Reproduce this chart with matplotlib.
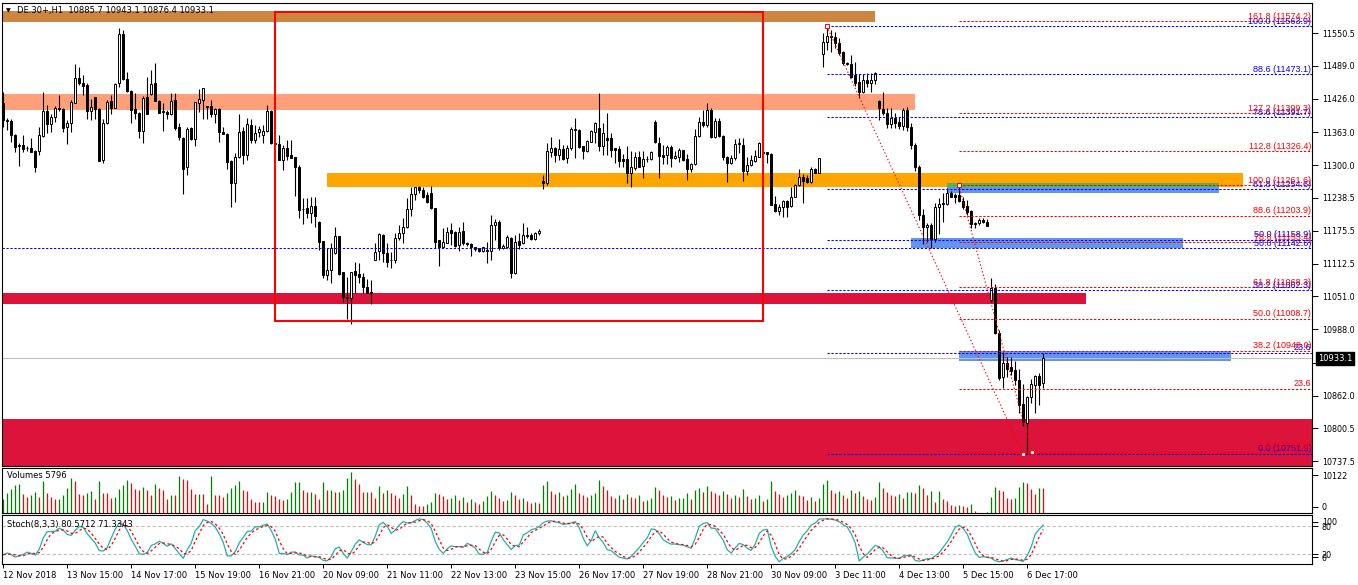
import matplotlib.pyplot as plt
import numpy as np
import pandas as pd
from matplotlib.patches import Rectangle

# DE.30+ H1 candles (bar 0 = 12 Nov 2018)
opens = [
    11417.7, 11384.0, 11384.0, 11357.5, 11336.6, 11337.9, 11332.2, 11332.8, 11327.1, 11327.7,
    11355.6, 11403.1, 11377.8, 11391.0, 11408.2, 11406.3, 11372.1, 11379.7, 11418.9, 11465.2,
    11455.7, 11452.5, 11403.7, 11429.0, 11406.3, 11310.0, 11379.7, 11422.1, 11409.4, 11455.7,
    11549.4, 11463.9, 11441.1, 11406.3, 11398.7, 11365.7, 11429.0, 11435.4, 11455.7, 11422.7,
    11403.7, 11401.2, 11396.8, 11424.0, 11373.3, 11351.8, 11296.1, 11370.2, 11350.5, 11419.0,
    11424.0, 11412.6, 11412.6, 11397.4, 11406.3, 11363.2, 11359.4, 11308.1, 11265.7, 11315.1,
    11365.1, 11318.9, 11376.5, 11348.0, 11362.6, 11356.9, 11365.7, 11403.7, 11341.7, 11340.4,
    11310.0, 11332.2, 11319.5, 11315.1, 11296.1, 11216.3, 11219.4, 11208.7, 11222.6, 11192.8,
    11156.1, 11091.5, 11101.0, 11132.7, 11165.6, 11096.6, 11049.1, 11047.2, 11099.1, 11093.4,
    11087.1, 11068.1, 11058.0, 11120.0, 11137.7, 11167.5, 11132.7, 11120.0, 11120.0, 11161.2,
    11171.9, 11182.1, 11216.3, 11245.4, 11259.3, 11253.0, 11243.5, 11246.7, 11218.2, 11158.0,
    11145.3, 11152.9, 11177.0, 11173.8, 11148.5, 11175.7, 11151.7, 11150.4, 11144.1, 11142.2,
    11137.7, 11139.0, 11137.7, 11186.5, 11192.8, 11142.2, 11145.3, 11161.2, 11094.7, 11156.7,
    11151.7, 11167.5, 11167.5, 11159.3, 11170.7, 11270.1, 11266.9, 11325.8, 11332.2, 11319.5,
    11330.3, 11313.2, 11332.2, 11367.0, 11367.0, 11336.6, 11327.1, 11344.8, 11363.8, 11370.0,
    11336.6, 11351.2, 11351.2, 11332.2, 11330.3, 11311.3, 11311.3, 11284.7, 11294.2, 11315.1,
    11298.6, 11311.3, 11311.3, 11382.8, 11342.9, 11319.5, 11319.5, 11334.1, 11313.2, 11316.3,
    11329.0, 11311.3, 11292.3, 11302.4, 11355.6, 11382.8, 11376.5, 11405.0, 11354.3, 11384.7,
    11355.6, 11316.3, 11303.7, 11313.2, 11340.4, 11338.5, 11289.7, 11300.5, 11308.7, 11316.3,
    11325.8, 11325.8, 11321.4, 11226.4, 11213.7, 11220.1, 11232.7, 11222.6, 11240.3, 11262.5,
    11278.3, 11275.2, 11268.8, 11292.3, 11285.9, 11510.8, 11534.8, 11545.6, 11543.1, 11532.9,
    11515.8, 11494.9, 11492.4, 11471.5, 11458.8, 11439.8, 11462.0, 11455.7, 11462.0, 11422.7,
    11406.3, 11399.9, 11378.4, 11389.2, 11382.8, 11374.6, 11405.0, 11372.0, 11338.0, 11296.0,
    11205.5, 11182.1, 11186.5, 11159.3, 11220.1, 11226.4, 11226.4, 11246.7, 11243.5, 11243.5,
    11232.7, 11222.6, 11213.7, 11190.9, 11189.7, 11196.0, 11192.8, 11044.0, 11066.8, 10981.0,
    10898.3, 10923.7, 10917.3, 10911.0, 10892.0, 10846.4, 10810.9, 10859.0, 10882.5, 10899.5,
    10885.7]
highs = [
    11439.8, 11389.0, 11388.0, 11358.8, 11341.7, 11357.5, 11336.6, 11352.4, 11329.0, 11372.0,
    11439.8, 11414.5, 11397.4, 11412.6, 11433.5, 11408.2, 11386.0, 11424.0, 11492.4, 11487.3,
    11471.5, 11456.9, 11425.9, 11429.0, 11408.2, 11387.3, 11424.0, 11433.5, 11456.9, 11560.2,
    11557.0, 11477.8, 11443.0, 11436.7, 11401.8, 11431.6, 11467.0, 11481.0, 11494.9, 11424.0,
    11417.7, 11405.0, 11436.7, 11436.7, 11379.7, 11354.3, 11372.0, 11372.0, 11420.8, 11444.9,
    11447.4, 11412.6, 11424.0, 11408.2, 11408.2, 11373.3, 11360.7, 11310.0, 11322.7, 11397.4,
    11373.3, 11389.2, 11387.3, 11376.5, 11374.6, 11376.5, 11414.5, 11405.0, 11343.0, 11357.5,
    11338.5, 11348.0, 11348.0, 11316.3, 11300.5, 11237.2, 11237.2, 11239.1, 11240.3, 11194.1,
    11156.1, 11142.2, 11151.7, 11183.4, 11165.6, 11097.9, 11088.4, 11097.9, 11116.9, 11113.7,
    11096.0, 11083.3, 11082.0, 11151.7, 11170.7, 11169.4, 11151.7, 11135.8, 11170.7, 11186.5,
    11199.2, 11237.2, 11259.3, 11259.3, 11260.6, 11258.1, 11249.8, 11260.6, 11218.2, 11158.0,
    11180.2, 11183.4, 11190.9, 11175.7, 11183.4, 11192.8, 11154.8, 11151.7, 11145.3, 11142.2,
    11145.3, 11154.8, 11205.5, 11197.3, 11196.0, 11150.4, 11167.5, 11164.4, 11167.5, 11170.7,
    11190.9, 11183.4, 11170.7, 11173.8, 11178.3, 11281.5, 11342.9, 11353.1, 11335.3, 11349.3,
    11338.5, 11338.5, 11372.1, 11389.2, 11368.3, 11336.6, 11348.0, 11367.0, 11382.8, 11437.9,
    11379.7, 11398.7, 11361.9, 11332.2, 11336.6, 11321.4, 11336.6, 11327.7, 11325.8, 11327.7,
    11327.7, 11317.6, 11327.7, 11386.0, 11354.3, 11338.5, 11338.5, 11338.5, 11327.7, 11332.2,
    11329.0, 11321.4, 11304.9, 11368.3, 11392.3, 11405.0, 11417.7, 11408.2, 11389.2, 11389.2,
    11357.5, 11317.6, 11319.5, 11349.3, 11351.2, 11351.2, 11315.1, 11319.5, 11329.0, 11344.8,
    11327.7, 11325.8, 11322.7, 11241.6, 11226.4, 11234.0, 11234.0, 11259.3, 11264.4, 11292.3,
    11283.4, 11281.5, 11296.1, 11294.2, 11313.2, 11550.7, 11563.9, 11557.0, 11553.8, 11541.2,
    11517.7, 11496.8, 11509.5, 11496.8, 11473.4, 11473.4, 11475.9, 11475.9, 11477.8, 11424.0,
    11439.8, 11408.2, 11408.2, 11398.7, 11391.0, 11408.2, 11410.0, 11380.0, 11342.0, 11300.0,
    11216.3, 11189.7, 11190.9, 11227.7, 11237.2, 11246.7, 11256.2, 11251.7, 11247.9, 11261.6,
    11240.3, 11234.0, 11215.0, 11192.8, 11200.4, 11199.2, 11197.3, 11085.8, 11074.4, 10987.0,
    10945.8, 10936.0, 10936.0, 10928.7, 10912.3, 10884.4, 10862.0, 10893.3, 10901.5, 10905.8,
    10943.1]
lows = [
    11373.3, 11367.0, 11345.0, 11325.8, 11299.3, 11325.8, 11327.7, 11324.6, 11286.6, 11318.9,
    11354.3, 11360.7, 11363.8, 11382.8, 11403.7, 11363.8, 11340.4, 11363.2, 11417.7, 11452.5,
    11433.5, 11387.9, 11386.0, 11387.3, 11308.7, 11305.0, 11378.4, 11396.8, 11408.2, 11449.3,
    11462.0, 11439.8, 11381.0, 11387.9, 11351.2, 11342.9, 11397.4, 11433.5, 11422.7, 11398.7,
    11365.1, 11387.3, 11395.5, 11367.0, 11348.0, 11244.8, 11281.5, 11348.0, 11336.6, 11401.8,
    11387.3, 11387.3, 11392.3, 11379.7, 11344.8, 11359.4, 11292.9, 11221.4, 11230.8, 11313.2,
    11302.4, 11310.0, 11341.7, 11341.7, 11354.3, 11341.7, 11363.8, 11340.4, 11340.0, 11310.0,
    11291.0, 11310.0, 11313.2, 11241.6, 11199.2, 11188.4, 11199.2, 11189.7, 11183.4, 11139.0,
    11085.2, 11082.0, 11075.7, 11131.4, 11091.5, 11040.9, 11007.3, 10998.4, 11056.7, 11076.9,
    11056.7, 11056.7, 11036.4, 11120.0, 11120.0, 11116.8, 11106.1, 11104.2, 11113.7, 11158.0,
    11151.7, 11180.2, 11203.6, 11234.0, 11246.7, 11237.2, 11228.9, 11216.3, 11142.2, 11109.3,
    11142.2, 11151.7, 11148.5, 11145.3, 11137.7, 11148.5, 11147.2, 11127.6, 11137.7, 11135.8,
    11135.8, 11113.7, 11120.0, 11158.0, 11139.0, 11140.9, 11142.2, 11085.2, 11093.4, 11140.3,
    11150.4, 11161.2, 11158.0, 11158.0, 11167.5, 11254.3, 11262.5, 11316.3, 11306.8, 11310.0,
    11310.0, 11303.7, 11329.0, 11313.2, 11332.2, 11311.3, 11325.8, 11343.6, 11342.9, 11327.7,
    11319.5, 11319.5, 11316.3, 11303.7, 11296.1, 11296.1, 11265.7, 11259.3, 11291.0, 11296.1,
    11275.2, 11306.8, 11310.0, 11341.7, 11275.2, 11302.4, 11302.4, 11296.1, 11311.3, 11306.8,
    11308.7, 11272.0, 11287.8, 11300.5, 11354.3, 11373.3, 11373.3, 11351.2, 11351.2, 11353.1,
    11310.0, 11268.8, 11302.4, 11310.0, 11322.7, 11270.7, 11281.5, 11298.6, 11306.8, 11315.1,
    11322.7, 11303.7, 11224.5, 11211.8, 11205.5, 11202.3, 11202.3, 11221.4, 11239.1, 11260.6,
    11228.9, 11265.7, 11265.7, 11285.9, 11284.7, 11487.3, 11519.0, 11515.8, 11522.2, 11509.5,
    11490.5, 11490.5, 11465.2, 11450.6, 11427.2, 11437.9, 11448.0, 11439.8, 11454.4, 11386.0,
    11395.5, 11370.2, 11370.2, 11370.2, 11368.3, 11367.0, 11365.0, 11330.0, 11290.0, 11196.0,
    11150.0, 11154.8, 11142.2, 11155.0, 11169.4, 11192.8, 11224.5, 11239.1, 11227.7, 11230.8,
    11216.3, 11205.5, 11180.2, 11180.2, 11186.5, 11189.7, 11184.6, 11040.2, 10979.0, 10892.0,
    10876.2, 10898.3, 10901.5, 10882.5, 10828.7, 10804.6, 10751.9, 10847.7, 10829.9, 10844.5,
    10876.4]
closes = [
    11386.0, 11386.0, 11357.5, 11334.1, 11337.9, 11330.3, 11333.5, 11325.8, 11296.1, 11356.9,
    11403.1, 11377.8, 11392.3, 11408.2, 11406.3, 11371.4, 11379.7, 11419.6, 11465.2, 11455.7,
    11451.2, 11403.7, 11410.1, 11406.3, 11308.7, 11379.7, 11420.8, 11409.4, 11454.4, 11549.4,
    11463.9, 11441.1, 11405.0, 11398.7, 11365.7, 11428.4, 11397.4, 11453.8, 11422.7, 11399.9,
    11401.2, 11396.8, 11422.7, 11371.4, 11353.1, 11293.6, 11368.3, 11350.5, 11419.6, 11425.3,
    11446.2, 11410.1, 11397.4, 11406.3, 11362.6, 11359.4, 11306.8, 11265.7, 11315.1, 11362.6,
    11318.9, 11377.8, 11348.0, 11360.7, 11368.9, 11365.1, 11403.7, 11341.7, 11341.0, 11310.0,
    11332.2, 11317.6, 11314.4, 11296.1, 11215.0, 11217.5, 11208.7, 11222.6, 11203.6, 11154.8,
    11091.5, 11101.0, 11142.2, 11165.6, 11093.4, 11049.1, 11047.2, 11097.9, 11091.5, 11087.1,
    11068.1, 11058.0, 11058.6, 11135.8, 11168.8, 11132.7, 11116.8, 11119.4, 11161.2, 11171.9,
    11183.4, 11216.3, 11245.4, 11258.1, 11253.0, 11240.3, 11230.8, 11218.2, 11154.8, 11145.3,
    11153.6, 11173.8, 11171.9, 11146.6, 11173.8, 11151.7, 11151.0, 11144.1, 11140.3, 11137.7,
    11144.1, 11137.7, 11186.5, 11192.8, 11142.2, 11146.6, 11163.1, 11094.7, 11154.8, 11148.5,
    11167.5, 11165.6, 11159.3, 11170.7, 11175.7, 11265.7, 11327.1, 11332.2, 11319.5, 11330.3,
    11311.3, 11332.2, 11368.3, 11368.3, 11335.3, 11327.1, 11346.1, 11365.1, 11379.7, 11336.6,
    11362.0, 11348.0, 11329.0, 11329.0, 11308.7, 11308.7, 11286.0, 11296.1, 11315.1, 11296.1,
    11311.3, 11311.9, 11325.8, 11344.8, 11317.6, 11316.3, 11334.1, 11313.2, 11317.6, 11329.0,
    11310.0, 11292.3, 11302.4, 11355.6, 11382.8, 11376.5, 11405.0, 11354.3, 11384.7, 11355.6,
    11315.1, 11303.7, 11313.2, 11340.4, 11341.7, 11289.7, 11300.5, 11310.0, 11317.6, 11342.9,
    11324.0, 11321.4, 11224.5, 11213.7, 11220.1, 11232.7, 11221.4, 11240.3, 11262.5, 11278.3,
    11270.1, 11268.8, 11292.3, 11285.9, 11313.2, 11534.8, 11545.6, 11543.1, 11531.7, 11513.9,
    11494.9, 11492.4, 11467.1, 11455.7, 11439.8, 11462.0, 11455.7, 11462.0, 11475.9, 11408.2,
    11398.7, 11378.4, 11389.2, 11380.9, 11374.6, 11405.0, 11372.0, 11338.0, 11296.0, 11205.5,
    11182.1, 11186.5, 11159.3, 11221.3, 11226.4, 11227.7, 11246.7, 11239.1, 11239.1, 11232.7,
    11221.3, 11211.8, 11188.4, 11188.4, 11196.0, 11192.8, 11184.6, 11066.8, 10981.0, 10895.8,
    10923.7, 10912.3, 10909.7, 10892.0, 10844.5, 10812.8, 10860.2, 10884.4, 10899.5, 10882.5,
    10933.1]
volumes = [
    3370, 4700, 5640, 6500, 6730, 4460, 3760, 4150, 5010, 3680,
    7520, 4620, 3760, 3210, 3370, 4230, 5870, 8140, 7440, 4540,
    4230, 4780, 5090, 3210, 7440, 4620, 4580, 3600, 3680, 5640,
    6580, 7670, 6970, 5560, 5320, 6110, 5480, 4310, 6730, 5720,
    5320, 3210, 4230, 4150, 8610, 7990, 7600, 5640, 4390, 4540,
    4460, 2040, 8540, 4310, 4230, 3680, 4620, 5870, 6420, 7440,
    5400, 5090, 3290, 2660, 2510, 2660, 4860, 4230, 3990, 3210,
    3130, 3170, 5010, 7130, 7280, 5480, 4930, 5010, 4540, 3290,
    7130, 5320, 5400, 4860, 4950, 5400, 8140, 9470, 7910, 6660,
    4860, 4900, 4860, 3520, 6260, 4620, 5320, 4620, 4150, 3520,
    4390, 6260, 4310, 2190, 1640, 1600, 2190, 2660, 4780, 4390,
    4070, 3210, 3500, 4200, 3000, 3800, 2600, 3300, 2500, 2200,
    2700, 3900, 5200, 4300, 3500, 2800, 3000, 4800, 4100, 3300,
    3600, 2900, 2400, 2600, 2300, 6500, 7500, 5200, 4400, 4800,
    3900, 4300, 5600, 6800, 4700, 4100, 3800, 4200, 4600, 7800,
    6200, 5300, 4000, 3600, 4200, 3300, 4500, 3800, 3400, 4100,
    2800, 3000, 3500, 6000, 5400, 4200, 3700, 3900, 3100, 3400,
    3600, 4700, 3300, 5300, 5900, 4800, 6300, 5100, 4600, 4300,
    5200, 4400, 3500, 4200, 3800, 5600, 3900, 3200, 3600, 4100,
    2900, 3300, 7400, 5200, 4400, 3800, 4100, 4700, 5300, 4200,
    3900, 3100, 3700, 2800, 3400, 6800, 7600, 5400, 4700, 5100,
    4300, 3600, 5400, 4600, 5200, 3900, 3300, 3100, 3700, 7200,
    5900, 4800, 4200, 3900, 4400, 3520, 4860, 4900, 4700, 6500,
    5720, 4310, 5090, 2510, 5090, 3290, 2740, 1880, 1640, 1880,
    1640, 1330, 2110, 390, 80, 30, 160, 3680, 6110, 5480,
    5170, 3450, 3290, 3450, 6110, 7200, 7050, 5560, 4540, 5900,
    5796]

tick_bars = list(range(0, 257, 16))
tick_labels = ['12 Nov 2018', '13 Nov 15:00', '14 Nov 17:00', '15 Nov 19:00', '16 Nov 21:00',
               '20 Nov 09:00', '21 Nov 11:00', '22 Nov 13:00', '23 Nov 15:00', '26 Nov 17:00',
               '27 Nov 19:00', '28 Nov 21:00', '30 Nov 09:00', '3 Dec 11:00', '4 Dec 13:00',
               '5 Dec 15:00', '6 Dec 17:00']
price_ticks = [11550.5, 11489.0, 11426.0, 11363.0, 11300.0, 11238.5, 11175.5, 11112.5,
               11051.0, 10988.0, 10925.0, 10862.0, 10800.5, 10737.5]

# supply / demand zones: first bar, last bar, bottom, top
zone_x0 = [-0.3, -0.3, 80.9, 235.9, 235.9, 226.9, -0.3, 238.9, -0.3]
zone_x1 = [217.9, 227.9, 309.9, 303.9, 303.9, 294.9, 270.7, 306.9, 330]
zone_lo = [11572.2, 11405.0, 11259.3, 11259.3, 11247.9, 11143.4, 11036.0, 10928.7, 10700]
zone_hi = [11593.1, 11435.4, 11285.9, 11266.9, 11259.3, 11161.8, 11057.9, 10947.1, 10817.9]
zone_col = ['#CD853F', '#FFA07A', '#FFA500', '#55B548', '#6495ED', '#6495ED', '#DC143C',
            '#6495ED', '#DC143C']

# fibonacci retracements
blue_lv = [11563.9, 11473.1, 11391.7, 11254.6, 11158.9, 11062.3, 10943.5, 10751.9]
blue_tx = ['100.0 (11563.9)', '88.6 (11473.1)', '78.6 (11391.7)', '61.8 (11254.6)',
           '50.0 (11158.9)', '38.2 (11062.3)', '23.6', '0.0 (10751.9)']
red_lv = [11574.2, 11399.3, 11326.4, 11261.6, 11203.9, 11153.4, 11068.3, 11008.7, 10948.0,
          10875.2, 10755.8]
red_tx = ['161.8 (11574.2)', '127.2 (11399.3)', '112.8 (11326.4)', '100.0 (11261.6)',
          '88.6 (11203.9)', '78.6 (11153.4)', '61.8 (11068.3)', '50.0 (11008.7)',
          '38.2 (10948.0)', '23.6', '0.0 (10755.8)']
blue_anchor = ([205.9, 254.9], [11563.9, 10751.9])
red_anchor = ([238.9, 257.1], [11261.6, 10755.8])

O = np.array(opens); H = np.array(highs); L = np.array(lows); C = np.array(closes)
V = np.array(volumes)
x = np.arange(len(C))

W, HT = 1358, 585
fig = plt.figure(figsize=(W / 100, HT / 100), dpi=100)
left, width = 2.3 / W, 1309.7 / W
ax = fig.add_axes([left, (HT - 465.5) / HT, width, 463 / HT])
axv = fig.add_axes([left, (HT - 513) / HT, width, 45.5 / HT])
axs = fig.add_axes([left, (HT - 564) / HT, width, 49 / HT])

for a in (ax, axv, axs):
    a.set_xlim(-0.25, 327.2)
    for s in a.spines.values():
        s.set_linewidth(0.8)
        s.set_color('black')
    a.yaxis.tick_right()
    a.tick_params(axis='y', direction='out', length=4, width=0.7, labelsize=5.8, pad=3)

ax.set_ylim(10729.5, 11609.2)
xmax = 327.2

# zones
for x0, x1, lo, hi, c in zip(zone_x0, zone_x1, zone_lo, zone_hi, zone_col):
    ax.add_patch(Rectangle((x0, lo), x1 - x0, hi - lo, facecolor=c, edgecolor='none', zorder=1))
ax.add_patch(Rectangle((67.9, 11003.5), 122, 11591.2 - 11003.5, facecolor='none',
                       edgecolor='red', linewidth=1.5, zorder=6))

ax.axhline(10933.1, color='#C0C0C0', lw=0.8, zorder=2)

# candles
ax.vlines(x, np.minimum(L, np.minimum(O, C)), np.maximum(H, np.maximum(O, C)),
          color='black', lw=0.8, zorder=3)
bull = C >= O
ax.bar(x, np.abs(C - O), bottom=np.minimum(O, C), width=0.5,
       color=np.where(bull, 'white', 'black'), edgecolor='black', linewidth=0.7, zorder=4)

# fib levels
dash = (0, (2.2, 1.6))
ytr = ax.get_yaxis_transform()
ax.plot([-0.3, xmax], [11142.6, 11142.6], color='blue', ls=dash, lw=0.75, zorder=5)
ax.text(0.9993, 11143.5, '50.0 (11142.6)', transform=ytr, ha='right', va='bottom',
        fontsize=6.5, family='Liberation Sans', color='blue', zorder=7)
for lv, tx in zip(blue_lv, blue_tx):
    ax.plot([blue_anchor[0][0], xmax], [lv, lv], color='blue', ls=dash, lw=0.75, zorder=5)
    ax.text(0.9993, lv + 0.8, tx, transform=ytr, ha='right', va='bottom', fontsize=6.5,
            family='Liberation Sans', color='blue', zorder=7)
for lv, tx in zip(red_lv, red_tx):
    ax.plot([red_anchor[0][0], xmax], [lv, lv], color='red', ls=dash, lw=0.75, zorder=5)
    ax.text(0.9993, lv + 0.8, tx, transform=ytr, ha='right', va='bottom', fontsize=6.5,
            family='Liberation Sans', color='red', zorder=7)
for xs, ys in (blue_anchor, red_anchor):
    ax.plot(xs, ys, color='red', ls=(0, (1.2, 2.0)), lw=0.8, zorder=5)
    ax.plot(xs, ys, 's', ms=3, mfc='white', mec='red', mew=0.7, zorder=6)

ax.set_xticks([])
ax.set_yticks(price_ticks)
ax.set_yticklabels([f'{t:.1f}' for t in price_ticks])

fig.text(8 / W, 1 - 10.5 / HT, '\u25bc', fontsize=4.5, va='center', ha='center')
fig.text(17 / W, 1 - 11 / HT, 'DE.30+,H1  10885.7 10943.1 10876.4 10933.1',
         fontsize=6, va='center')
fig.text(1318 / W, 1 - 358.5 / HT, '10933.1', fontsize=6, va='center', color='white',
         bbox=dict(boxstyle='square,pad=0.25', fc='black', ec='black'))

# volumes
vcol = ['green'] + ['green' if V[i] > V[i - 1] else 'red' for i in range(1, len(V))]
axv.vlines(x, 0, V, colors=vcol, lw=0.9)
axv.set_ylim(0, 10622)
axv.set_xticks([])
axv.set_yticks([8860, 1410])
axv.set_yticklabels(['10122', '0'])
fig.text(7 / W, 1 - 476 / HT, 'Volumes 5796', fontsize=6, va='center')

# stochastic 8,3,3
lo8 = pd.Series(L).rolling(8, min_periods=1).min()
hi8 = pd.Series(H).rolling(8, min_periods=1).max()
num = (pd.Series(C) - lo8).rolling(3, min_periods=1).sum()
den = (hi8 - lo8).rolling(3, min_periods=1).sum()
k = 100 * num / den
d = k.rolling(3, min_periods=1).mean()
axs.axhline(80, color='#C0C0C0', ls=(0, (3, 2)), lw=0.8)
axs.axhline(20, color='#C0C0C0', ls=(0, (3, 2)), lw=0.8)
axs.plot(x, k, color='#20B2AA', lw=0.9)
axs.plot(x, d, color='red', ls=(0, (2, 2)), lw=0.9)
axs.set_ylim(-0.6, 103.4)
axs.set_yticks([89, 80, 20, 13.6])
axs.set_yticklabels(['100', '80', '20', '0'])
axs.set_xticks(tick_bars)
axs.set_xticklabels(tick_labels, ha='left')
axs.tick_params(axis='x', direction='out', length=3, width=0.7, labelsize=6, pad=2)
fig.text(7 / W, 1 - 524 / HT, 'Stoch(8,3,3) 80.5712 71.3343', fontsize=6, va='center')

fig.savefig('out.png', dpi=100)
